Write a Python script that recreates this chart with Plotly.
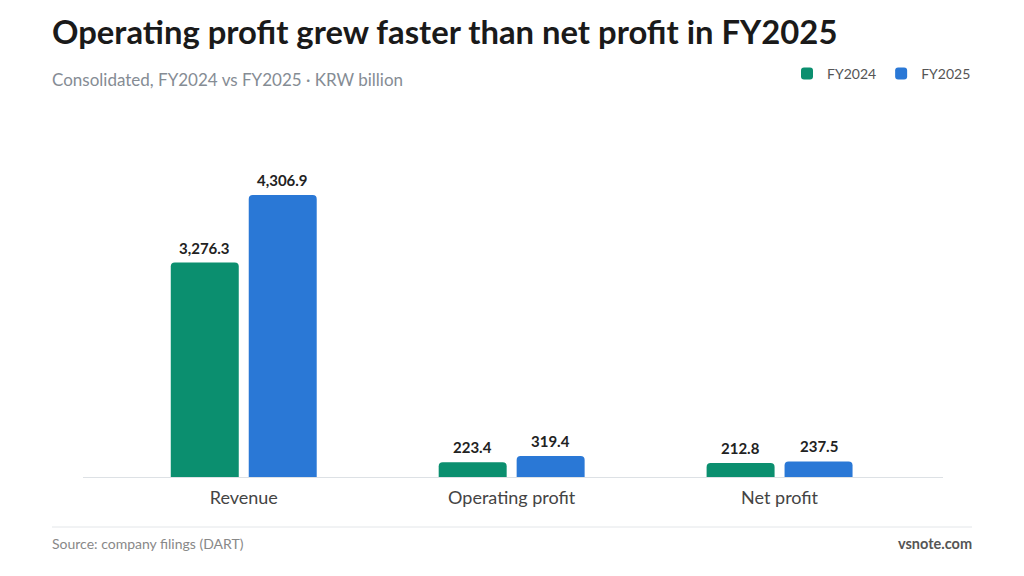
import plotly.graph_objects as go

categories = ["Revenue", "Operating profit", "Net profit"]
fy2024 = [3276.3, 223.4, 212.8]
fy2025 = [4306.9, 319.4, 237.5]
series_names = ["FY2024", "FY2025"]

GREEN = "#0b8f6f"
BLUE = "#2a78d6"
FONT = "Lato"

# plot area in pixels: x 83..943, y 130..477
PW, PH, TOP, BASE, LEFT = 860, 347, 130, 477, 83


def px_x(p):
    return (p - LEFT) / PW


def px_y(p):
    return (BASE - p) / PH


fig = go.Figure()
for name, vals, color, shift in zip(series_names, [fy2024, fy2025], [GREEN, BLUE], [-39, 39]):
    fig.add_trace(go.Bar(
        x=categories, y=vals, name=name,
        marker=dict(color=color, line=dict(width=0)),
        hoverinfo="x+y",
    ))
    for cat, v in zip(categories, vals):
        fig.add_annotation(
            x=cat, y=v, xref="x", yref="y", text=f"<b>{v:,.1f}</b>",
            showarrow=False, xshift=shift, yshift=15, yanchor="middle",
            font=dict(family=FONT, size=15, color="#222222"),
        )

fig.update_layout(
    width=1024, height=576,
    paper_bgcolor="white", plot_bgcolor="white",
    margin=dict(l=LEFT, r=1024 - 943, t=TOP, b=576 - BASE),
    barmode="group", bargap=0.418, bargroupgap=0.128,
    barcornerradius=4,
    font=dict(family=FONT, color="#444444"),
    showlegend=True,
    legend=dict(
        orientation="h", x=px_x(976), y=px_y(58), xanchor="right", yanchor="top",
        font=dict(size=14, color="#555555"), traceorder="normal",
    ),
)

fig.update_xaxes(
    range=[-0.6, 2.61], showgrid=False, ticks="",
    showline=True, linecolor="#dde1e5", linewidth=1,
    tickfont=dict(size=18, color="#444444"), ticklabelstandoff=4,
)
fig.update_yaxes(range=[0, 5300], visible=False, showgrid=False, zeroline=False)

fig.add_annotation(
    text="<b>Operating profit grew faster than net profit in FY2025</b>",
    xref="paper", yref="paper", x=px_x(50), y=px_y(32),
    xanchor="left", yanchor="middle", showarrow=False,
    font=dict(family=FONT, size=32.8, color="#1a1a1a"),
)
fig.add_annotation(
    text="Consolidated, FY2024 vs FY2025 · KRW billion",
    xref="paper", yref="paper", x=px_x(50), y=px_y(80),
    xanchor="left", yanchor="middle", showarrow=False,
    font=dict(family=FONT, size=17, color="#858c94"),
)
fig.add_annotation(
    text="Source: company filings (DART)",
    xref="paper", yref="paper", x=px_x(50), y=px_y(543),
    xanchor="left", yanchor="middle", showarrow=False,
    font=dict(family=FONT, size=14, color="#888888"),
)
fig.add_annotation(
    text="<b>vsnote.com</b>",
    xref="paper", yref="paper", x=px_x(974), y=px_y(543),
    xanchor="right", yanchor="middle", showarrow=False,
    font=dict(family=FONT, size=14.5, color="#555555"),
)
fig.add_shape(
    type="line", xref="paper", yref="paper",
    x0=px_x(52), x1=px_x(972), y0=px_y(527), y1=px_y(527),
    line=dict(color="#e3e6e9", width=1),
)

fig.write_html("out.html", config={"displayModeBar": False},
               post_script="document.body.style.margin='0';")
